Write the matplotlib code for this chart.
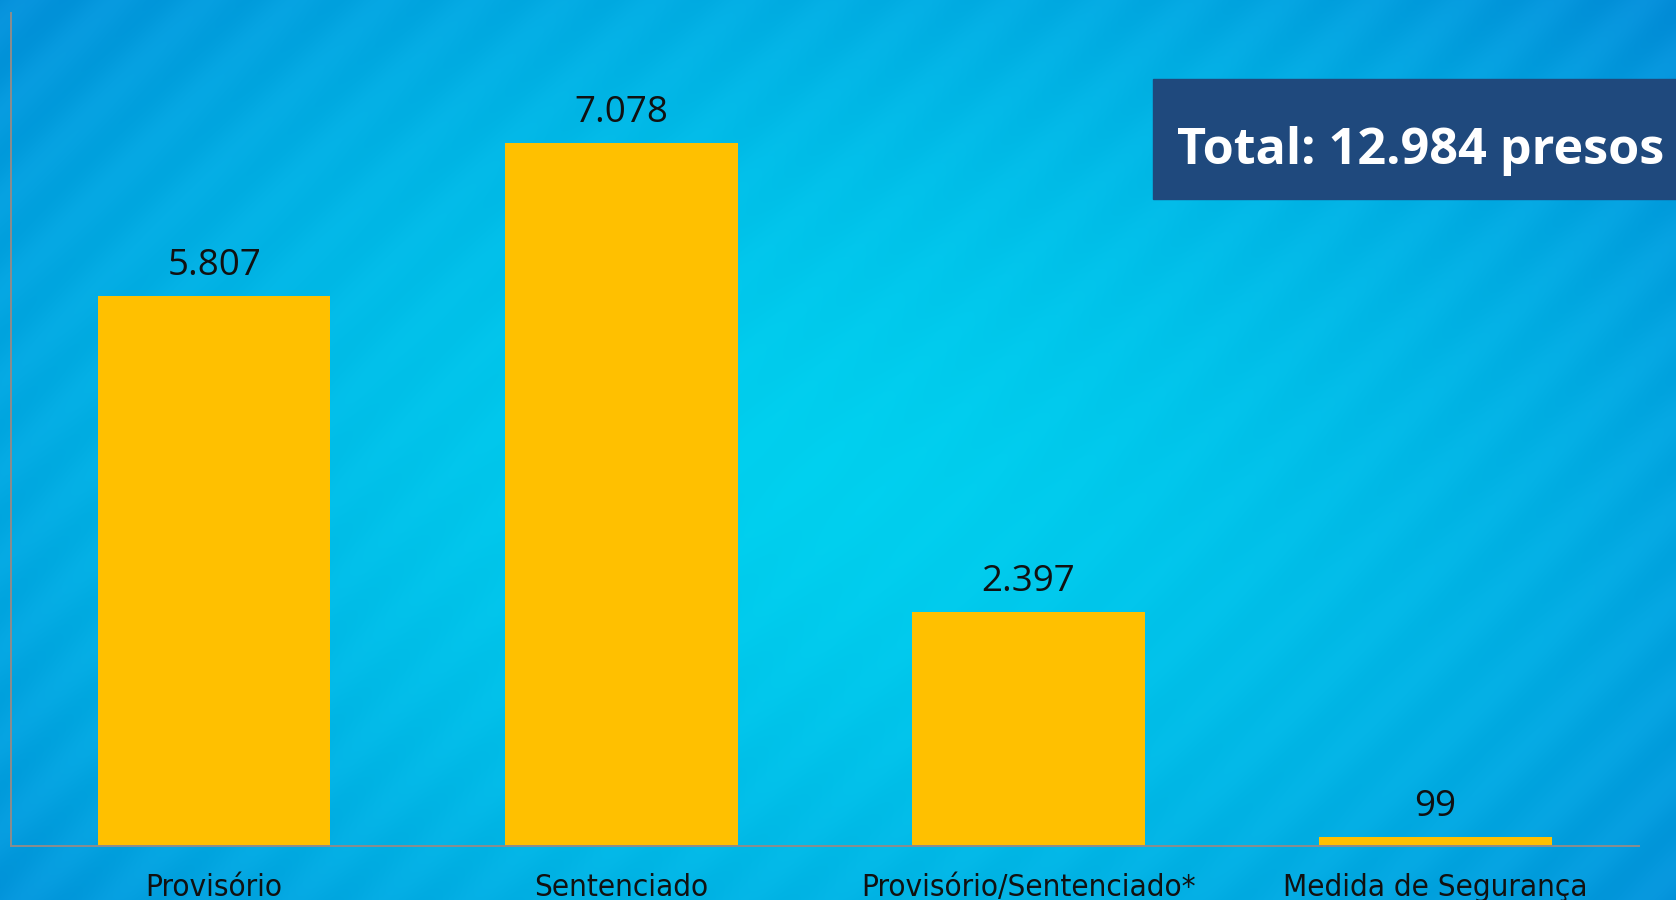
import numpy as np
import matplotlib
matplotlib.use('Agg')
import matplotlib.pyplot as plt
from matplotlib import font_manager
from matplotlib.font_manager import FontProperties
from matplotlib.patches import Rectangle

# dados
categories = ['Provisório', 'Sentenciado', 'Provisório/Sentenciado*', 'Medida de Segurança']
value_labels = ['5.807', '7.078', '2.397', '99']
# alturas das barras como desenhadas no original (não batem exatamente com os rótulos)
bar_heights = [5531, 7078, 2355, 88]
total_text = 'Total: 12.984 presos'

W, H = 1676, 900

# escolhe a primeira fonte instalada da lista
def pick_font(names):
    have = {f.name for f in font_manager.fontManager.ttflist}
    for n in names:
        if n in have:
            return n
    return 'DejaVu Sans'

# fonte estreita para as categorias, se houver alguma instalada
def narrow_font(size):
    for f in font_manager.fontManager.ttflist:
        fn = f.fname.lower()
        if ('narrow' in fn or 'condensed' in fn) and 'bold' not in fn \
                and 'oblique' not in fn and 'italic' not in fn:
            return FontProperties(fname=f.fname, size=size)
    return FontProperties(family=pick_font(['Roboto', 'Open Sans']), size=size * 0.85)

f_values = pick_font(['Open Sans', 'Noto Sans', 'DejaVu Sans'])
f_total = pick_font(['Open Sans', 'Noto Sans', 'DejaVu Sans'])
cat_fp = narrow_font(22.5)

fig = plt.figure(figsize=(W / 100, H / 100), dpi=100)

# fundo: degradê radial azul com listras diagonais suaves
yy, xx = np.mgrid[0:H, 0:W]
d = np.sqrt(((xx - 820) / 1000.0) ** 2 + ((yy - 480) / 640.0) ** 2)
t = np.clip(d / 1.15, 0, 1) ** 1.6
c_in = np.array([0.0, 0.815, 0.935])
c_out = np.array([0.02, 0.55, 0.85])
img = c_in * (1 - t[..., None]) + c_out * t[..., None]
stripes = 0.011 * np.sin(2 * np.pi * (xx + yy) / 90.0) * (0.3 + t)
img = np.clip(img + stripes[..., None], 0, 1)

bg = fig.add_axes([0, 0, 1, 1])
bg.imshow(img, aspect='auto', interpolation='bilinear')
bg.axis('off')

# grafico principal
left, right = 10.7 / W, 1639 / W
bottom, top = (H - 845.6) / H, 1 - 13 / H
ax = fig.add_axes([left, bottom, right - left, top - bottom])
ax.patch.set_alpha(0)

x = np.arange(len(categories))
ax.bar(x, bar_heights, width=0.571, color='#FFC000', zorder=2)
ax.set_xlim(-0.5, 3.5)
ax.set_ylim(0, 8384)

for i, (h, lbl) in enumerate(zip(bar_heights, value_labels)):
    ax.annotate(lbl, (i, h), xytext=(0, 15), textcoords='offset points',
                ha='center', va='baseline', fontsize=26.5, family=f_values,
                color='#111111')

ax.set_xticks(x)
ax.set_xticklabels(categories, fontproperties=cat_fp, color='#111111')
for lab in ax.get_xticklabels():
    lab.set_va('baseline')
ax.tick_params(axis='x', length=0, pad=36)
ax.set_yticks([])

for s in ['top', 'right']:
    ax.spines[s].set_visible(False)
for s in ['left', 'bottom']:
    ax.spines[s].set_color('#8c8c8c')
    ax.spines[s].set_linewidth(1.4)

# caixa do total
fig.add_artist(Rectangle((1153 / W, 1 - 199 / H), (W - 1153) / W + 0.01, 120 / H,
                         transform=fig.transFigure, color='#1F497D', zorder=3))
fig.text(1177 / W, 1 - 164 / H, total_text, fontsize=36.3, weight='bold',
         color='white', family=f_total, ha='left', va='baseline', zorder=4)

fig.savefig('out.png', dpi=100)
